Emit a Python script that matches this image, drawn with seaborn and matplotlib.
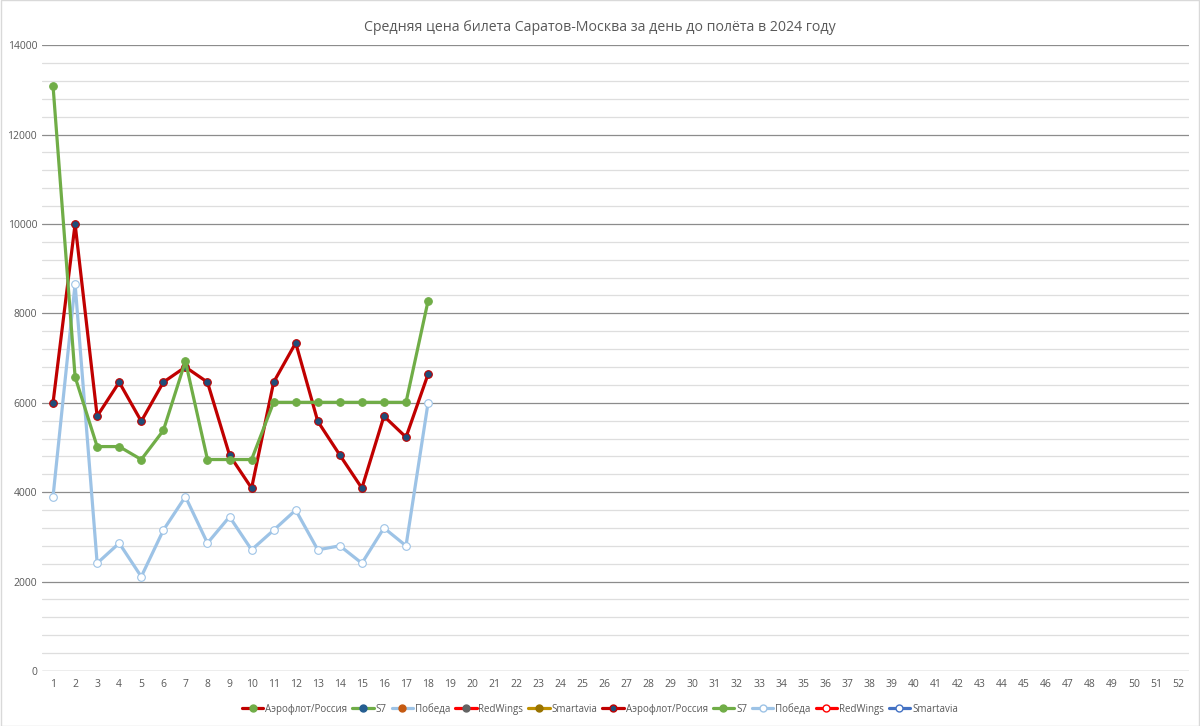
import matplotlib
matplotlib.use("Agg")
import matplotlib.pyplot as plt
from matplotlib.lines import Line2D
from matplotlib.patches import Rectangle
from matplotlib.ticker import MultipleLocator
import pandas as pd
import seaborn as sns

days = list(range(1, 53))
filled_days = list(range(1, 19))

aeroflot = [6000, 10000, 5700, 6460, 5585, 6460, 6800, 6460, 4830, 4090,
            6460, 7340, 5585, 4830, 4090, 5700, 5230, 6640]
s7 = [13090, 6580, 5020, 5020, 4730, 5380, 6930, 4730, 4730, 4730,
      6010, 6010, 6010, 6010, 6010, 6010, 6010, 8280]
pobeda = [3900, 8660, 2410, 2860, 2110, 3150, 3900, 2860, 3450, 2710,
          3150, 3600, 2710, 2800, 2410, 3200, 2800, 6000]

legend_names = ['Аэрофлот/Россия', 'S7', 'Победа', 'RedWings', 'Smartavia',
                'Аэрофлот/Россия', 'S7', 'Победа', 'RedWings', 'Smartavia']
legend_line = ['#c00000', '#70ad47', '#9dc3e6', '#ff0000', '#bf9000',
               '#c00000', '#70ad47', '#9dc3e6', '#ff0000', '#4472c4']
legend_face = ['#70ad47', '#255e91', '#c55a11', '#636363', '#997300',
               '#1f4e79', '#70ad47', 'white', 'white', 'white']
legend_edge = ['#70ad47', '#255e91', '#c55a11', '#636363', '#997300',
               '#c00000', '#70ad47', '#9dc3e6', '#ff0000', '#4472c4']

sns.set_style("white")
plt.rcParams['font.family'] = ['Open Sans', 'DejaVu Sans']

fig = plt.figure(figsize=(12, 7.26), dpi=100)
ax = fig.add_axes([0.035, 0.0758, 0.956, 0.862])
fig.add_artist(Rectangle((0.0005, 0.0005), 0.999, 0.999, transform=fig.transFigure,
                         fill=False, edgecolor='#d9d9d9', linewidth=1))

df = pd.DataFrame({'day': filled_days, 'aeroflot': aeroflot, 's7': s7, 'pobeda': pobeda})

sns.lineplot(data=df, x='day', y='pobeda', ax=ax, color='#9dc3e6', linewidth=2.3,
             marker='o', markersize=5.5, markerfacecolor='white',
             markeredgecolor='#9dc3e6', markeredgewidth=0.8, zorder=3)
sns.lineplot(data=df, x='day', y='aeroflot', ax=ax, color='#c00000', linewidth=2.3,
             marker='o', markersize=5.5, markerfacecolor='#1f4e79',
             markeredgecolor='#c00000', markeredgewidth=0.8, zorder=4)
sns.lineplot(data=df, x='day', y='s7', ax=ax, color='#70ad47', linewidth=2.3,
             marker='o', markersize=5.5, markerfacecolor='#70ad47',
             markeredgecolor='#70ad47', zorder=5)

ax.set_xlim(0.5, 52.5)
ax.set_ylim(0, 14000)
ax.set_xticks(days)
ax.set_xticklabels([str(d) for d in days])
ax.yaxis.set_major_locator(MultipleLocator(2000))
ax.yaxis.set_minor_locator(MultipleLocator(400))
ax.grid(which='major', axis='y', color='#8c8c8c', linewidth=0.9)
ax.grid(which='minor', axis='y', color='#dedede', linewidth=0.9)
ax.axhline(0, color='#d9d9d9', linewidth=0.9, zorder=1)
ax.set_axisbelow(True)
for s in ax.spines.values():
    s.set_visible(False)
ax.tick_params(axis='both', which='both', length=0, labelsize=7.5,
               labelcolor='#595959')
ax.tick_params(axis='x', pad=6)
ax.set_xlabel('')
ax.set_ylabel('')

fig.suptitle('Средняя цена билета Саратов-Москва за день до полёта в 2024 году',
             y=0.972, fontsize=10.2, color='#595959')

handles = [Line2D([], [], color=lc, linewidth=2.3, marker='o', markersize=5,
                  markerfacecolor=fc, markeredgecolor=ec)
           for lc, fc, ec in zip(legend_line, legend_face, legend_edge)]
fig.legend(handles, legend_names, loc='center', bbox_to_anchor=(0.5, 0.023),
           ncol=10, frameon=False, fontsize=7, labelcolor='#595959',
           handlelength=2.2, handletextpad=0.2, columnspacing=0.5)

fig.savefig('out.png', dpi=100)
